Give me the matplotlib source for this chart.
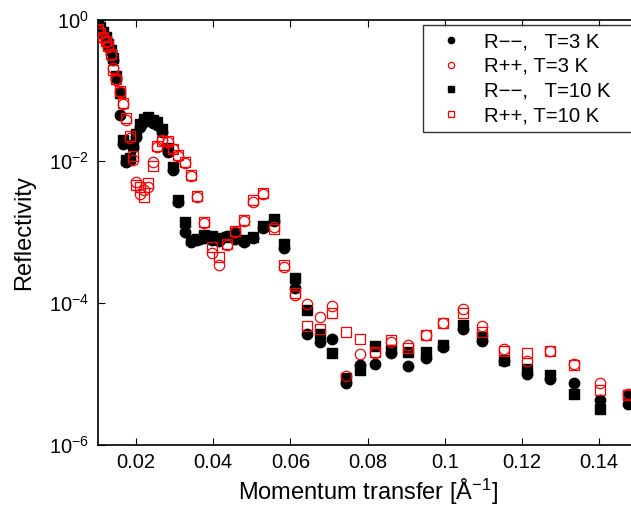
import numpy as np
import matplotlib
matplotlib.use("Agg")
import matplotlib.pyplot as plt
from matplotlib.ticker import FixedLocator, FuncFormatter, NullLocator

plt.rcParams['font.family'] = ['Liberation Sans', 'DejaVu Sans']
plt.rcParams['mathtext.fontset'] = 'custom'
plt.rcParams['mathtext.rm'] = 'Liberation Sans'
plt.rcParams['mathtext.it'] = 'Liberation Sans:italic'
plt.rcParams['mathtext.default'] = 'regular'

# Momentum transfer [1/Å]
q = [0.0100, 0.0107, 0.0114, 0.0121, 0.0127, 0.0134, 0.0140, 0.0149, 0.0157, 0.0165,
     0.0174, 0.0183, 0.0191, 0.0200, 0.0209, 0.0221, 0.0232, 0.0243, 0.0254, 0.0267,
     0.0282, 0.0296, 0.0309, 0.0326, 0.0341, 0.0358, 0.0376, 0.0396, 0.0415, 0.0436,
     0.0457, 0.0479, 0.0503, 0.0529, 0.0557, 0.0583, 0.0612, 0.0644, 0.0676, 0.0708,
     0.0745, 0.0781, 0.0820, 0.0861, 0.0905, 0.0950, 0.0996, 0.1046, 0.1097, 0.1152,
     0.1212, 0.1271, 0.1334, 0.1401, 0.1474]

# log10(reflectivity)
log_r_mm_3k = [-0.06, -0.12, -0.19, -0.26, -0.36, -0.44, -0.57, -0.83, -1.35, -1.76,
               -2.01, -1.98, -1.80, -1.66, -1.52, -1.45, -1.42, -1.46, -1.49, -1.59,
               -1.87, -2.12, -2.57, -3.00, -3.14, -3.11, -3.08, -3.11, -3.12, -3.05,
               -3.10, -3.14, -3.08, -2.94, -2.84, -3.22, -3.79, -4.44, -4.55, -4.51,
               -5.13, -4.87, -4.86, -4.70, -4.89, -4.77, -4.62, -4.37, -4.53, -4.82,
               -5.00, -5.07, -5.13, -5.37, -5.42]
log_r_pp_3k = [-0.15, -0.19, -0.26, -0.32, -0.39, -0.50, -0.68, -0.85, -1.02, -1.19,
               -1.42, -1.67, -1.98, -2.29, -2.46, -2.40, -2.36, -2.01, -1.80, -1.70,
               -1.73, -1.83, -1.93, -2.02, -2.21, -2.50, -2.87, -3.29, -3.46, -3.18,
               -3.00, -2.84, -2.57, -2.46, -2.93, -3.49, -3.89, -4.01, -4.20, -4.04,
               -5.03, -4.72, -4.70, -4.55, -4.59, -4.45, -4.28, -4.08, -4.32, -4.65,
               -4.82, -4.68, -4.86, -5.13, -5.28]
log_r_mm_10k = [-0.05, -0.11, -0.18, -0.25, -0.35, -0.43, -0.54, -0.80, -1.04, -1.70,
                -1.98, -1.95, -1.77, -1.61, -1.47, -1.40, -1.38, -1.42, -1.44, -1.54,
                -1.81, -2.08, -2.55, -2.86, -3.11, -3.10, -3.04, -3.05, -3.08, -3.07,
                -3.01, -3.11, -3.07, -2.91, -2.81, -3.17, -3.65, -4.10, -4.44, -4.70,
                -5.05, -4.94, -4.60, -4.66, -4.69, -4.69, -4.59, -4.31, -4.48, -4.80,
                -4.93, -5.01, -5.28, -5.49, -5.30]
log_r_pp_10k = [-0.13, -0.19, -0.25, -0.30, -0.37, -0.49, -0.71, -0.84, -1.01, -1.18,
                -1.39, -1.64, -1.93, -2.33, -2.36, -2.50, -2.31, -2.07, -1.78, -1.71,
                -1.71, -1.83, -1.91, -2.01, -2.19, -2.49, -2.86, -3.21, -3.35, -3.17,
                -2.98, -2.83, -2.55, -2.45, -2.96, -3.46, -3.86, -4.32, -4.37, -4.14,
                -4.41, -4.51, -4.69, -4.52, -4.63, -4.45, -4.28, -4.14, -4.41, -4.68,
                -4.70, -4.68, -4.87, -5.23, -5.30]

labels = ["R\u2212\u2212,   T=3 K", "R++, T=3 K", "R\u2212\u2212,   T=10 K", "R++, T=10 K"]
x_ticks = [0.02, 0.04, 0.06, 0.08, 0.1, 0.12, 0.14]
x_tick_labels = ["0.02", "0.04", "0.06", "0.08", "0.1", "0.12", "0.14"]
y_ticks = [1e-6, 1e-4, 1e-2, 1e0]

W, H = 631, 509
fig = plt.figure(figsize=(W / 100, H / 100), dpi=100)
left, right_px, top, bottom = 97.5, 637.9, 19.5, 445
aw, ah = right_px - left, bottom - top
ax = fig.add_axes([left / W, (H - bottom) / H, aw / W, ah / H])

qa = np.array(q)
ax.plot(qa, 10 ** np.array(log_r_mm_3k), 'o', ms=7.5, color='black', mec='black', label=labels[0], zorder=3)
ax.plot(qa, 10 ** np.array(log_r_pp_3k), 'o', ms=7.5, mfc='none', mec='red', mew=0.9, label=labels[1], zorder=4)
ax.plot(qa, 10 ** np.array(log_r_mm_10k), 's', ms=6.5, color='black', mec='black', label=labels[2], zorder=3)
ax.plot(qa, 10 ** np.array(log_r_pp_10k), 's', ms=6.5, mfc='none', mec='red', mew=0.9, label=labels[3], zorder=4)

ax.set_yscale('log')
ax.set_xlim(0.01, 0.15)
ax.set_ylim(1e-6, 1e0)
ax.xaxis.set_major_locator(FixedLocator(x_ticks))
ax.set_xticklabels(x_tick_labels)
ax.yaxis.set_major_locator(FixedLocator(y_ticks))
ax.yaxis.set_minor_locator(NullLocator())
ax.yaxis.set_major_formatter(FuncFormatter(lambda v, p: r'$10^{%d}$' % int(round(np.log10(v)))))
ax.tick_params(direction='in', top=True, right=True, length=5, width=0.8, labelsize=14.5, pad=6)
for s in ax.spines.values():
    s.set_linewidth(1.2)

ax.set_xlabel('Momentum transfer [Å$^{-1}$]', fontsize=17, labelpad=3)
ax.set_ylabel('Reflectivity', fontsize=17, labelpad=10)

lx0 = (423 - left) / aw
lx1 = (642 - left) / aw
ly1 = (bottom - 25) / ah
ly0 = (bottom - 128) / ah
leg = ax.legend(loc='upper left', bbox_to_anchor=(lx0, ly0, lx1 - lx0, ly1 - ly0), mode='expand',
                fontsize=14.7, markerscale=0.6, frameon=True, fancybox=False, borderaxespad=0,
                edgecolor='black', handletextpad=0.65, borderpad=0.35, labelspacing=0.28,
                handlelength=2.0)
leg.get_frame().set_linewidth(1.0)

fig.savefig('out.png', dpi=100)
